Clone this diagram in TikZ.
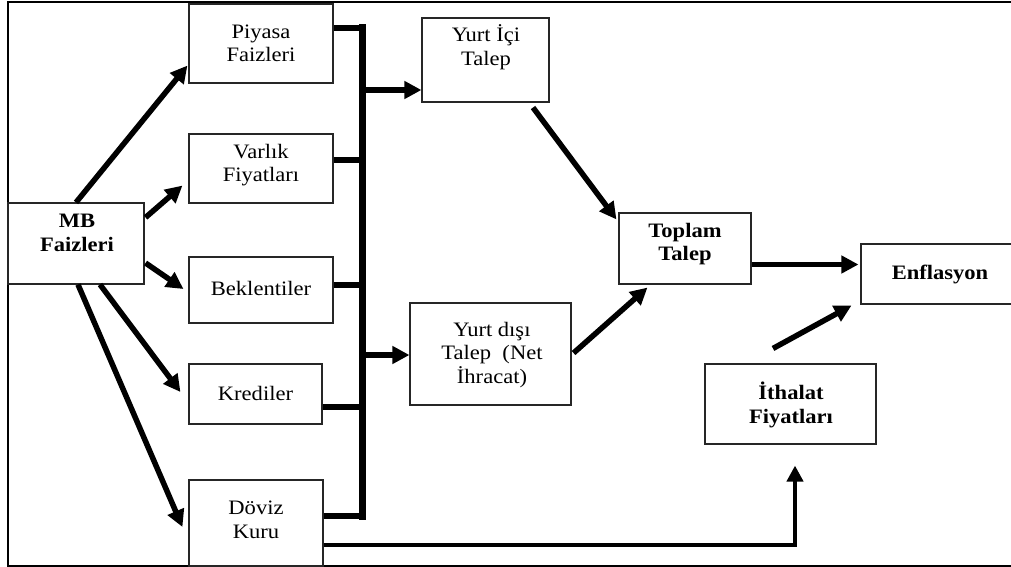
\documentclass[tikz,border=0pt]{standalone}
\usepackage{fontspec}
\setmainfont[FakeStretch=1.1]{Liberation Serif}
\usetikzlibrary{arrows.meta,calc}
\tikzset{
  box/.style={draw=black!85, line width=1.1pt, rectangle, inner sep=0pt, fill=white},
  txt/.style={align=center, inner sep=0pt, font=\fontsize{20.5}{23.5}\selectfont},
  btxt/.style={txt, font=\fontsize{20.5}{23.5}\selectfont\bfseries},
  arr/.style={line width=5.5pt, -{Triangle[length=17pt,width=17pt]}},
  arrthin/.style={line width=4.8pt, -{Triangle[length=16pt,width=16pt]}},
  stub/.style={line width=5.5pt},
  bus/.style={line width=7pt, line cap=rect},
  frame/.style={line width=2pt}
}
\begin{document}
\begin{tikzpicture}[x=1pt,y=-1pt]
\useasboundingbox (0,0) rectangle (1011,567);
\clip (0,0) rectangle (1011,567);
\fill[white] (0,0) rectangle (1011,567);
\draw[frame] (8,2) rectangle (1040,566);

% boxes
\node[box, minimum width=136pt, minimum height=81pt] (mb) at (76,243.5) {};
\node[box, minimum width=144pt, minimum height=79pt] (piy) at (261,43.5) {};
\node[box, minimum width=144pt, minimum height=69pt] (var) at (261,168.5) {};
\node[box, minimum width=144pt, minimum height=66pt] (bek) at (261,290) {};
\node[box, minimum width=133pt, minimum height=60pt] (kre) at (255.5,394) {};
\node[box, minimum width=134pt, minimum height=86pt] (dov) at (256,523) {};
\node[box, minimum width=127pt, minimum height=84pt] (yic) at (485.5,60) {};
\node[box, minimum width=161pt, minimum height=102pt] (yd) at (490.5,354) {};
\node[box, minimum width=132pt, minimum height=71pt] (top) at (685,248.5) {};
\node[box, minimum width=158pt, minimum height=60pt] (enf) at (940,274) {};
\node[box, minimum width=171pt, minimum height=80pt] (ith) at (790.5,404) {};

% texts
\node[btxt] (mbt) at (77,233) {MB\\Faizleri};
\node[txt] (piyt) at (261,43.5) {Piyasa\\Faizleri};
\node[txt] (vart) at (261,165) {Varlık\\Fiyatları};
\node[txt] (bekt) at (261,288) {Beklentiler};
\node[txt] (kret) at (255.5,393) {Krediler};
\node[txt] (dovt) at (256,520) {Döviz\\Kuru};
\node[txt] (yict) at (486,47) {Yurt İçi\\Talep};
\node[txt] (ydt) at (492,355) {Yurt dışı\\Talep\ \ (Net\\İhracat)};
\node[btxt] (topt) at (685,244) {Toplam\\Talep};
\node[btxt] (enft) at (940,274) {Enflasyon};
\node[btxt] (itht) at (791,405) {İthalat\\Fiyatları};

% bus
\coordinate (b1) at (362,28);
\coordinate (b2) at (362,160);
\coordinate (b3) at (362,285);
\coordinate (b4) at (362,407);
\coordinate (b5) at (362,516);
\coordinate (j1) at (362,90);
\coordinate (j2) at (362,355);
\draw[stub] (piy.east |- b1) -- (b1);
\draw[stub] (var.east |- b2) -- (b2);
\draw[stub] (bek.east |- b3) -- (b3);
\draw[stub] (kre.east |- b4) -- (b4);
\draw[stub] (dov.east |- b5) -- (b5);
\draw[bus] (b1) -- (b5);
\draw[arr] (j1) -- (j1 -| yic.west);
\draw[arr] (j2) -- (j2 -| yd.west);

% arrows from MB
\draw[arr] (mb.north) -- ([xshift=-1pt,yshift=18pt]piy.south west);
\draw[arr] ([xshift=1pt,yshift=-15pt]mb.north east) -- ([xshift=-6pt,yshift=18pt]var.south west);
\draw[arr] ([xshift=1pt,yshift=-19.5pt]mb.east) -- ([xshift=-5pt,yshift=1pt]bek.west);
\draw[arr] ([xshift=24pt]mb.south) -- ([xshift=-8pt,yshift=2pt]kre.west);
\draw[arr] ([xshift=2pt]mb.south) -- ([xshift=-6pt,yshift=-4pt]dov.west);

% demand to total
\draw[arr] ([xshift=47.5pt,yshift=-5pt]yic.south) -- ([xshift=-2pt,yshift=-7pt]top.north west);
\draw[arr] ([xshift=2pt,yshift=1pt]yd.east) -- ([xshift=29pt,yshift=-3pt]top.south west);
\coordinate (t1) at ([yshift=-16pt]top.east);
\coordinate (t2) at (t1 -| enf.west);
\draw[arr] (t1) -- ([xshift=-2pt]t2);
\draw[arr] ([xshift=-17.5pt,yshift=15pt]ith.north) -- ([xshift=-9pt,yshift=-1pt]enf.south west);

% exchange rate to import prices
\coordinate (d1) at ([yshift=-22pt]dov.east);
\draw[arrthin] (d1) -| ([xshift=4.5pt,yshift=-21pt]ith.south);
\end{tikzpicture}
\end{document}
